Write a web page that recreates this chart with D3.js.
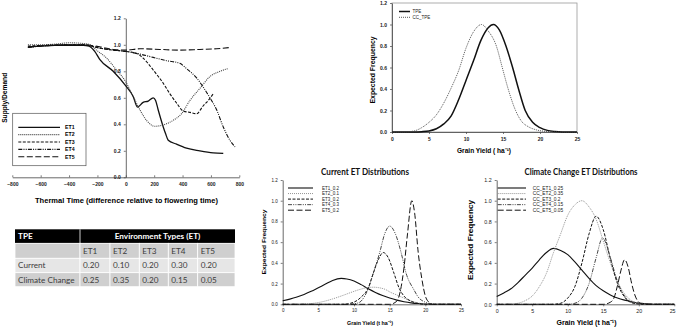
<!DOCTYPE html>
<html>
<head>
<meta charset="utf-8">
<script src="https://cdn.jsdelivr.net/npm/d3@7"></script>
<style>
  body { margin: 0; background: #fff; }
  svg { display: block; }
  text { font-family: "Liberation Sans", Arial, sans-serif; }
</style>
</head>
<body>
<svg id="fig" width="676" height="327"></svg>
<script>
// ---- supply/demand vs thermal time (top left) ----
const etNames = ["ET1", "ET2", "ET3", "ET4", "ET5"];
const thermalTicks = [-800, -600, -400, -200, 0, 200, 400, 600, 800];
const ratioTicks = [0, 0.2, 0.4, 0.6, 0.8, 1.0, 1.2];

const sdET1 = [[-690,0.985],[-600,0.99],[-500,0.995],[-400,0.995],[-300,0.995],[-260,0.99],[-219,0.95],[-184,0.89],[-89,0.8],[0,0.69],[52,0.61],[82,0.53],[122,0.565],[158,0.575],[193,0.6],[210,0.58],[228,0.51],[264,0.38],[280,0.33],[299,0.28],[358,0.25],[428,0.22],[522,0.2],[616,0.185],[687,0.18]];
const sdET2 = [[-690,1.0],[-600,1.0],[-500,1.005],[-400,1.015],[-300,1.01],[-250,1.0],[-207,0.96],[-136,0.9],[-66,0.81],[0,0.72],[52,0.61],[99,0.51],[146,0.43],[205,0.385],[264,0.395],[334,0.43],[393,0.48],[452,0.58],[522,0.67],[593,0.76],[664,0.8],[720,0.82]];
const sdET3 = [[-690,0.99],[-600,0.995],[-400,1.0],[-300,1.0],[-184,0.975],[-89,0.96],[0,0.95],[75,0.935],[122,0.9],[193,0.81],[264,0.71],[311,0.63],[358,0.56],[405,0.5],[452,0.49],[499,0.48],[546,0.54],[581,0.58],[616,0.63]];
const sdET4 = [[-690,0.98],[-600,0.99],[-400,1.0],[-300,1.0],[-184,0.975],[-89,0.96],[0,0.95],[99,0.93],[193,0.905],[287,0.88],[381,0.86],[428,0.82],[499,0.75],[546,0.68],[593,0.6],[640,0.51],[687,0.38],[734,0.28],[770,0.23]];
const sdET5 = [[-690,0.98],[-600,0.99],[-400,1.0],[-300,1.0],[-184,0.985],[-89,0.965],[0,0.96],[99,0.97],[240,0.965],[381,0.96],[522,0.965],[640,0.97],[740,0.98]];

// ---- TPE table ----
const tableRows = ["Current", "Climate Change"];
const currentFreq = [0.20, 0.10, 0.20, 0.30, 0.20];
const climateFreq = [0.25, 0.35, 0.20, 0.15, 0.05];

// ---- yield distributions ----
const yieldTicks = [0, 5, 10, 15, 20, 25];
const freqTicks = [0, 0.2, 0.4, 0.6, 0.8, 1.0, 1.2];

const tpeNames = ["TPE", "CC_TPE"];
const tpe = [[0,0],[3,0],[4,0.003],[5,0.01],[6,0.03],[7,0.075],[8,0.15],[9,0.3],[10,0.48],[11,0.66],[12,0.85],[13,0.97],[13.7,1.0],[14.5,0.95],[15.4,0.8],[16.3,0.6],[17.1,0.4],[18,0.2],[19,0.09],[20,0.04],[21,0.015],[22,0.005],[23,0.001],[25,0]];
const ccTpe = [[0,0],[2,0.002],[3,0.01],[4,0.04],[5,0.09],[6,0.16],[7,0.27],[8,0.41],[9,0.57],[10,0.78],[11,0.93],[12.1,1.0],[13,0.94],[14.1,0.8],[14.9,0.6],[15.7,0.4],[16.7,0.2],[17.5,0.1],[18.4,0.05],[19.5,0.02],[21,0.005],[22,0.001],[25,0]];

const currentNames = ["ET1_0.2", "ET2_0.1", "ET3_0.2", "ET4_0.3", "ET5_0.2"];
const curET1 = [[0,0.035],[1,0.05],[2,0.07],[3,0.095],[4,0.125],[5,0.16],[6,0.195],[7,0.23],[8.2,0.25],[9,0.245],[10,0.225],[11,0.19],[12,0.15],[13,0.115],[14,0.085],[15,0.06],[16,0.04],[17,0.025],[18,0.014],[19,0.007],[20,0.003],[21,0.001],[22,0],[25,0]];
const curET2 = [[0,0],[3,0.002],[4,0.007],[5,0.017],[6,0.032],[7,0.052],[8,0.075],[9,0.1],[10,0.125],[11,0.147],[12,0.162],[12.7,0.165],[13.5,0.16],[14.5,0.14],[15,0.12],[16,0.09],[17,0.06],[18,0.032],[19,0.013],[20,0.004],[21,0],[25,0]];
const curET3 = [[0,0],[8.5,0],[9.5,0.01],[10.5,0.04],[11,0.07],[12,0.16],[12.7,0.3],[13.4,0.43],[14.1,0.5],[14.8,0.45],[15.6,0.3],[16.3,0.16],[17,0.08],[18,0.03],[19,0.008],[20,0],[25,0]];
const curET4 = [[0,0],[9,0],[10,0.005],[10.8,0.02],[11.5,0.08],[12,0.15],[12.7,0.3],[13.6,0.5],[14.3,0.68],[15,0.755],[15.8,0.68],[16.6,0.5],[17.3,0.3],[18.4,0.14],[19,0.07],[20,0.02],[21,0.003],[22,0],[25,0]];
const curET5 = [[0,0],[15,0],[16,0.03],[16.5,0.13],[17,0.35],[17.5,0.68],[18.1,1.0],[18.5,0.88],[19,0.5],[19.5,0.25],[20,0.08],[20.5,0.02],[21,0],[25,0]];

const climateNames = ["CC_ET1_0.25", "CC_ET2_0.35", "CC_ET3_0.2", "CC_ET4_0.15", "CC_ET5_0.05"];
const ccET1 = [[0,0.075],[1,0.11],[2,0.15],[3,0.21],[4,0.28],[5,0.35],[6,0.43],[7,0.5],[8,0.54],[9,0.52],[10,0.48],[11,0.41],[12,0.33],[13,0.25],[14,0.18],[15,0.13],[16,0.09],[17,0.06],[18,0.04],[19,0.025],[20,0.012],[21,0.005],[22,0.001],[25,0]];
const ccET2 = [[0,0],[2,0.003],[3,0.01],[4,0.035],[5,0.08],[6,0.17],[7,0.3],[8,0.5],[9,0.68],[10,0.86],[11,0.96],[12,1.0],[13,0.94],[14,0.82],[15,0.61],[16,0.4],[17,0.22],[18,0.1],[19,0.035],[20,0.01],[21,0.002],[22,0],[25,0]];
const ccET3 = [[0,0],[8,0],[9,0.01],[10,0.06],[11,0.17],[12,0.4],[13,0.68],[14,0.85],[15,0.72],[16,0.44],[17,0.2],[18,0.07],[19,0.015],[20,0.003],[21,0],[25,0]];
const ccET4 = [[0,0],[10,0],[11,0.01],[12,0.06],[13,0.2],[14,0.45],[14.9,0.64],[16,0.45],[17,0.22],[18,0.08],[19,0.02],[20,0.004],[21,0],[25,0]];
const ccET5 = [[0,0],[15,0],[16,0.02],[16.5,0.06],[17,0.18],[17.5,0.33],[18,0.43],[18.5,0.36],[19,0.2],[19.5,0.08],[20,0.02],[20.5,0.003],[21,0],[25,0]];

// line styles shared by ET1..ET5
const etStyle = [
  { dash: null, color: "#111", w: 1.1 },
  { dash: "1,1", color: "#888", w: 0.9 },
  { dash: "3,1.5", color: "#111", w: 1 },
  { dash: "4,1.2,1,1.2,1,1.2", color: "#333", w: 0.9 },
  { dash: "6,2.5", color: "#111", w: 1 }
];

const svg = d3.select("#fig");
svg.append("rect").attr("width", 676).attr("height", 327).attr("fill", "#fff");

function styleAxis(g, size, weight) {
  g.selectAll("path.domain").attr("stroke", "#444").attr("stroke-width", 0.8);
  g.selectAll(".tick line").attr("stroke", "#444").attr("stroke-width", 0.7);
  g.selectAll("text")
    .style("font-family", "'Liberation Sans', Arial, sans-serif")
    .style("font-size", size + "px")
    .style("font-weight", weight)
    .attr("fill", "#222");
}

// ================= top left: supply / demand =================
{
  const x = d3.scaleLinear([-800, 800], [12.3, 239.3]);
  const y = d3.scaleLinear([0, 1.2], [177.3, 18.3]);
  const g = svg.append("g");

  g.append("g")
    .attr("transform", `translate(0,${y(0)})`)
    .call(d3.axisBottom(x).tickValues(thermalTicks).tickSizeInner(-2).tickSizeOuter(0).tickPadding(5.5))
    .call(a => styleAxis(a, 5, "bold"));

  g.append("g")
    .attr("transform", `translate(${x(0)},0)`)
    .call(d3.axisLeft(y).tickValues(ratioTicks).tickFormat(d3.format(".1f")).tickSizeInner(2).tickSizeOuter(0).tickPadding(3))
    .call(a => styleAxis(a, 5, "bold"));

  const line = d3.line().x(d => x(d[0])).y(d => y(d[1])).curve(d3.curveMonotoneX);
  const series = [sdET1, sdET2, sdET3, sdET4, sdET5];
  g.selectAll("path.sd")
    .data(series)
    .join("path")
    .attr("class", "sd")
    .attr("d", line)
    .attr("fill", "none")
    .attr("stroke", (d, i) => i === 1 ? "#444" : "#111")
    .attr("stroke-width", (d, i) => i === 0 ? 1.3 : 1.1)
    .attr("stroke-dasharray", (d, i) => etStyle[i].dash);

  g.append("text")
    .attr("x", 126.5).attr("y", 202.5)
    .attr("text-anchor", "middle")
    .attr("textLength", 183).attr("lengthAdjust", "spacingAndGlyphs")
    .style("font-size", "7.2px").style("font-weight", "bold")
    .text("Thermal Time (difference relative to flowering time)");

  g.append("text")
    .attr("transform", `translate(6.5,${y(0.6)}) rotate(-90)`)
    .attr("text-anchor", "middle")
    .attr("textLength", 50).attr("lengthAdjust", "spacingAndGlyphs")
    .style("font-size", "7px").style("font-weight", "bold")
    .text("Supply/Demand");

  // legend
  g.append("rect")
    .attr("x", 12.7).attr("y", 113.3).attr("width", 73.3).attr("height", 52.4)
    .attr("fill", "#fff").attr("stroke", "#555").attr("stroke-width", 0.7);
  const lg = g.selectAll("g.lg").data(etNames).join("g").attr("class", "lg")
    .attr("transform", (d, i) => `translate(0,${127.3 + i * 7.35})`);
  lg.append("line")
    .attr("x1", 18.3).attr("x2", 60)
    .attr("stroke", (d, i) => i === 1 ? "#444" : "#111")
    .attr("stroke-width", (d, i) => i === 0 ? 1.3 : 1.1)
    .attr("stroke-dasharray", (d, i) => etStyle[i].dash);
  lg.append("text")
    .attr("x", 65).attr("dy", "0.35em")
    .style("font-size", "5.2px").style("font-weight", "bold")
    .text(d => d);
}

// ================= TPE table =================
{
  const colX = [15, 80, 110, 139.3, 168.3, 197.7, 235];
  const rowY = [229.3, 243.3, 258.3, 272.7, 286.7];
  const g = svg.append("g");
  const rowFill = ["#000", "#cfcfcf", "#e6e6e6", "#cfcfcf"];

  // header
  g.append("rect").attr("x", colX[0]).attr("y", rowY[0])
    .attr("width", colX[6] - colX[0]).attr("height", rowY[1] - rowY[0]).attr("fill", rowFill[0]);
  g.append("line").attr("x1", colX[1]).attr("x2", colX[1]).attr("y1", rowY[0]).attr("y2", rowY[1])
    .attr("stroke", "#fff").attr("stroke-width", 0.8);
  g.append("text").attr("x", colX[0] + 3).attr("y", (rowY[0] + rowY[1]) / 2).attr("dy", "0.35em")
    .attr("fill", "#fff").style("font-family", "Lato, sans-serif").style("font-size", "8.2px").style("font-weight", "bold")
    .text("TPE");
  g.append("text").attr("x", (colX[1] + colX[6]) / 2).attr("y", (rowY[0] + rowY[1]) / 2).attr("dy", "0.35em")
    .attr("text-anchor", "middle")
    .attr("fill", "#fff").style("font-family", "Lato, sans-serif").style("font-size", "8.2px").style("font-weight", "bold")
    .text("Environment Types (ET)");

  const body = [
    ["", ...etNames],
    [tableRows[0], ...currentFreq.map(d3.format(".2f"))],
    [tableRows[1], ...climateFreq.map(d3.format(".2f"))]
  ];
  body.forEach((row, r) => {
    const y0 = rowY[r + 1], y1 = rowY[r + 2];
    row.forEach((cell, c) => {
      g.append("rect")
        .attr("x", colX[c]).attr("y", y0)
        .attr("width", colX[c + 1] - colX[c]).attr("height", y1 - y0)
        .attr("fill", rowFill[r + 1]).attr("stroke", "#fff").attr("stroke-width", 0.8);
      g.append("text")
        .attr("x", colX[c] + 3).attr("y", (y0 + y1) / 2).attr("dy", "0.35em")
        .attr("fill", "#3c3c3c")
        .style("font-family", "Lato, sans-serif").style("font-size", "8.2px")
        .text(cell);
    });
  });
}

// ================= distribution charts =================
function distChart(opt) {
  const x = d3.scaleLinear([0, 25], opt.xr);
  const y = d3.scaleLinear([0, 1.2], opt.yr);
  const g = svg.append("g");

  if (opt.frame) {
    g.append("rect")
      .attr("x", opt.xr[0]).attr("y", opt.yr[1])
      .attr("width", opt.xr[1] - opt.xr[0]).attr("height", opt.yr[0] - opt.yr[1])
      .attr("fill", "none").attr("stroke", "#999").attr("stroke-width", 0.8);
  }

  g.append("g")
    .attr("transform", `translate(0,${opt.yr[0]})`)
    .call(d3.axisBottom(x).tickValues(yieldTicks).tickSizeInner(2).tickSizeOuter(0).tickPadding(3))
    .call(a => styleAxis(a, opt.tickSize, opt.tickWeight))
    .call(a => a.selectAll(".tick:last-of-type text").attr("dx", opt.lastTickDx || 0));

  g.append("g")
    .attr("transform", `translate(${opt.xr[0]},0)`)
    .call(d3.axisLeft(y).tickValues(freqTicks).tickFormat(d3.format(".1f")).tickSizeInner(2).tickSizeOuter(0).tickPadding(3))
    .call(a => styleAxis(a, opt.tickSize, opt.tickWeight));

  const line = d3.line().x(d => x(d[0])).y(d => y(d[1])).curve(d3.curveMonotoneX);
  g.selectAll("path.dist")
    .data(opt.series)
    .join("path")
    .attr("class", "dist")
    .attr("d", line)
    .attr("fill", "none")
    .attr("stroke", (d, i) => opt.styles[i].color)
    .attr("stroke-width", (d, i) => opt.styles[i].w)
    .attr("stroke-dasharray", (d, i) => opt.styles[i].dash);

  // legend
  const lg = g.selectAll("g.lg").data(opt.names).join("g").attr("class", "lg")
    .attr("transform", (d, i) => `translate(0,${opt.legend.y + i * opt.legend.step})`);
  lg.append("line")
    .attr("x1", opt.legend.x1).attr("x2", opt.legend.x2)
    .attr("stroke", (d, i) => opt.styles[i].color)
    .attr("stroke-width", (d, i) => opt.styles[i].w)
    .attr("stroke-dasharray", (d, i) => opt.styles[i].dash);
  lg.append("text")
    .attr("x", opt.legend.tx).attr("dy", "0.35em")
    .style("font-size", opt.legend.size + "px")
    .attr("fill", "#222")
    .text(d => d);

  // axis titles
  g.append("text")
    .attr("x", opt.xLabel.cx).attr("y", opt.xLabel.y)
    .attr("text-anchor", "middle")
    .attr("textLength", opt.xLabel.len).attr("lengthAdjust", "spacingAndGlyphs")
    .style("font-size", opt.labelSize + "px").style("font-weight", "bold")
    .text(opt.xLabel.text);

  g.append("text")
    .attr("transform", `translate(${opt.yLabel.x},${opt.yLabel.cy}) rotate(-90)`)
    .attr("text-anchor", "middle")
    .attr("textLength", opt.yLabel.len).attr("lengthAdjust", "spacingAndGlyphs")
    .style("font-size", opt.labelSize + "px").style("font-weight", "bold")
    .text("Expected Frequency");

  if (opt.title) {
    g.append("text")
      .attr("x", opt.title.x).attr("y", opt.title.y).attr("dy", "0.35em")
      .attr("text-anchor", "middle")
      .attr("textLength", opt.title.len).attr("lengthAdjust", "spacingAndGlyphs")
      .style("font-family", "Lato, 'Open Sans', sans-serif")
      .style("font-size", "9px").style("font-weight", "bold")
      .attr("fill", "#111")
      .text(opt.title.text);
  }
}

// top right: TPE distributions
distChart({
  xr: [392, 577], yr: [132, 3], frame: true,
  series: [tpe, ccTpe], names: tpeNames,
  styles: [{ dash: null, color: "#111", w: 1.5 }, { dash: "1,1", color: "#444", w: 0.9 }],
  tickSize: 5, tickWeight: "bold",
  legend: { x1: 399, x2: 410, tx: 412.5, y: 11.5, step: 5.8, size: 4.5 },
  labelSize: 7,
  xLabel: { text: "Grain Yield ( ha\u207B\u00B9)", cx: 484, y: 152.5, len: 54 },
  yLabel: { x: 374.5, cy: 70, len: 67 }
});

// bottom middle: current ET
distChart({
  xr: [282.7, 461], yr: [304.3, 180],
  series: [curET1, curET2, curET3, curET4, curET5], names: currentNames,
  styles: etStyle,
  tickSize: 4.5, tickWeight: "normal",
  legend: { x1: 288, x2: 313, tx: 322, y: 188, step: 5.55, size: 4.5 },
  labelSize: 6,
  xLabel: { text: "Grain Yield (t ha\u207B\u00B9)", cx: 370, y: 324.5, len: 46 },
  yLabel: { x: 266, cy: 242, len: 65 },
  title: { text: "Current ET Distributions", x: 365, y: 171.7, len: 88 }
});

// bottom right: climate change ET
distChart({
  xr: [496.7, 674.3], yr: [304.3, 180],
  series: [ccET1, ccET2, ccET3, ccET4, ccET5], names: climateNames,
  styles: etStyle,
  tickSize: 5.3, tickWeight: "normal", lastTickDx: -2.2,
  legend: { x1: 497.7, x2: 526, tx: 532.7, y: 188, step: 5.55, size: 4.8 },
  labelSize: 7.3,
  xLabel: { text: "Grain Yield (t ha\u207B\u00B9)", cx: 586.5, y: 325, len: 60 },
  yLabel: { x: 473, cy: 240, len: 80 },
  title: { text: "Climate Change ET Distributions", x: 581, y: 171.7, len: 113 }
});
</script>
</body>
</html>
